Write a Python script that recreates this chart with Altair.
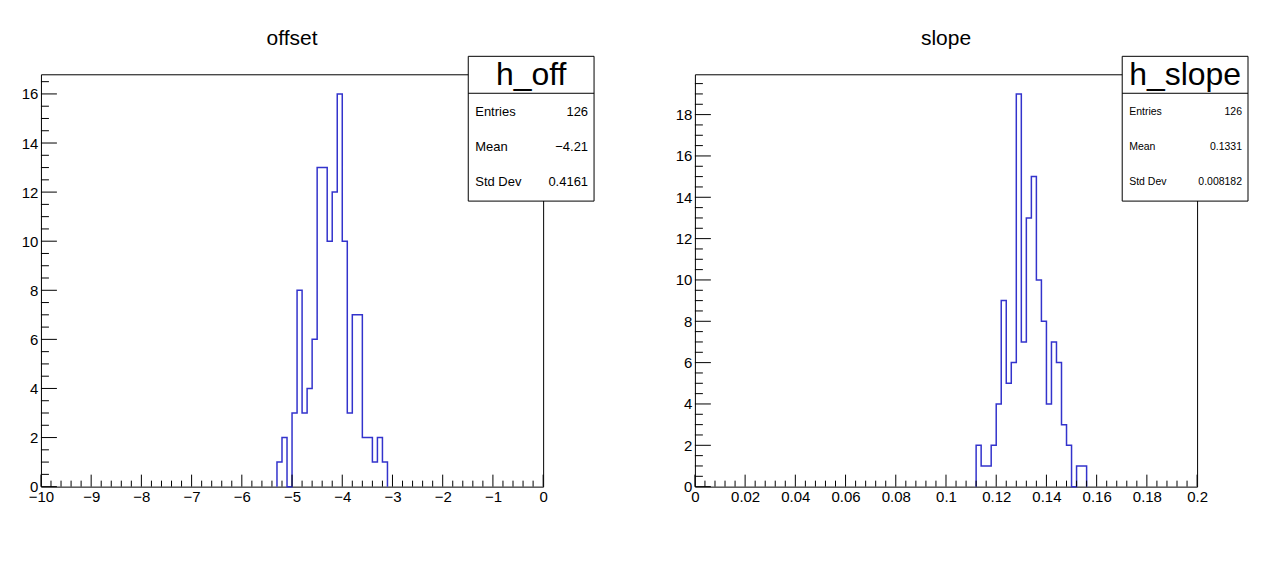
import altair as alt
import pandas as pd

# ---------------- data ----------------
# h_off : 100 bins on [-10, 0]; non-empty range starts at -5.3
off_first_edge = -5.3
off_bin_width = 0.1
off_counts = [1, 2, 0, 3, 8, 3, 4, 6, 13, 13, 10, 12, 16, 10, 3, 7, 7, 2, 2, 1, 2, 1]
off_xlim = [-10, 0]
off_ymax = 16.8
off_xmajor = [-10, -9, -8, -7, -6, -5, -4, -3, -2, -1, 0]
off_ymajor = [0, 2, 4, 6, 8, 10, 12, 14, 16]
off_stats = ["126", "\u22124.21", "0.4161"]

# h_slope : 100 bins on [0, 0.2]; non-empty range starts at 0.112
slope_first_edge = 0.112
slope_bin_width = 0.002
slope_counts = [2, 1, 1, 2, 4, 9, 5, 6, 19, 7, 13, 15, 10, 8, 4, 7, 6, 3, 2, 0, 1, 1]
slope_xlim = [0, 0.2]
slope_ymax = 19.95
slope_xmajor = [0, 0.02, 0.04, 0.06, 0.08, 0.1, 0.12, 0.14, 0.16, 0.18, 0.2]
slope_ymajor = [0, 2, 4, 6, 8, 10, 12, 14, 16, 18]
slope_stats = ["126", "0.1331", "0.008182"]

stat_labels = ["Entries", "Mean", "Std Dev"]

W, H = 503, 413
FONT = "Liberation Sans"
LINE_COLOR = "#3333cc"


def minor_ticks(lo, step, n, every):
    return [round(lo + step * k, 6) for k in range(n + 1) if k % every]


def step_table(first_edge, bw, counts):
    xs = [first_edge]
    ys = [0]
    for i, c in enumerate(counts):
        xs.append(round(first_edge + i * bw, 6))
        ys.append(c)
    xs.append(round(first_edge + len(counts) * bw, 6))
    ys.append(0)
    return pd.DataFrame({"x": xs, "y": ys, "i": list(range(len(xs)))})


def panel(title, hname, first_edge, bw, counts, xlim, ymax, xmajor, xminor,
          ymajor, yminor, xfmt, stats, stat_size):
    xs = alt.Scale(domain=xlim, nice=False, zero=False)
    ys = alt.Scale(domain=[0, ymax], nice=False, zero=False)
    xax = alt.Axis(values=xmajor, format=xfmt, title=None, ticks=False, domain=False,
                   grid=False, labelFlush=False, labelOverlap=False, labelFont=FONT,
                   labelFontSize=15, labelColor="black", labelPadding=3)
    yax = alt.Axis(values=ymajor, format="d", title=None, ticks=False, domain=False,
                   grid=False, labelFlush=False, labelOverlap=False, labelFont=FONT,
                   labelFontSize=15, labelColor="black", labelPadding=3)
    one = pd.DataFrame({"a": [0]})

    hist = alt.Chart(step_table(first_edge, bw, counts)).mark_line(
        interpolate="step-after", color=LINE_COLOR, strokeWidth=1.5
    ).encode(
        x=alt.X("x:Q", scale=xs, axis=xax),
        y=alt.Y("y:Q", scale=ys, axis=yax),
        order=alt.Order("i:Q"),
    )

    def xt(vals, ln):
        return alt.Chart(pd.DataFrame({"x": vals})).mark_rule(
            color="black", strokeWidth=1).encode(
            x=alt.X("x:Q", scale=xs, axis=xax),
            y=alt.value(H), y2=alt.value(H - ln))

    def yt(vals, ln):
        return alt.Chart(pd.DataFrame({"y": vals})).mark_rule(
            color="black", strokeWidth=1).encode(
            y=alt.Y("y:Q", scale=ys, axis=yax),
            x=alt.value(0), x2=alt.value(ln))

    layers = [hist, xt(xmajor, 12), xt(xminor, 6), yt(ymajor, 16), yt(yminor, 8)]

    # title
    layers.append(alt.Chart(one).mark_text(
        font=FONT, fontSize=21, color="black", baseline="middle", align="center"
    ).encode(x=alt.value(W / 2), y=alt.value(-35), text=alt.value(title)))

    # stats box
    bx1, bx2, by1, by2, bdiv = 428, 554, -18, 127, 19
    layers.append(alt.Chart(one).mark_rect(
        fill="white", stroke="black", strokeWidth=1
    ).encode(x=alt.value(bx1), x2=alt.value(bx2), y=alt.value(by1), y2=alt.value(by2)))
    layers.append(alt.Chart(one).mark_rule(color="black", strokeWidth=1).encode(
        x=alt.value(bx1), x2=alt.value(bx2), y=alt.value(bdiv)))
    layers.append(alt.Chart(one).mark_text(
        font=FONT, fontSize=32, color="black", baseline="middle", align="center"
    ).encode(x=alt.value((bx1 + bx2) / 2), y=alt.value(1), text=alt.value(hname)))
    row_y = [37.7, 73.2, 107.5]
    for lab, val, ry in zip(stat_labels, stats, row_y):
        layers.append(alt.Chart(one).mark_text(
            font=FONT, fontSize=stat_size, color="black", baseline="middle", align="left"
        ).encode(x=alt.value(435), y=alt.value(ry), text=alt.value(lab)))
        layers.append(alt.Chart(one).mark_text(
            font=FONT, fontSize=stat_size, color="black", baseline="middle", align="right"
        ).encode(x=alt.value(548), y=alt.value(ry), text=alt.value(val)))

    return alt.layer(*layers).properties(width=W, height=H)


left = panel("offset", "h_off", off_first_edge, off_bin_width, off_counts, off_xlim,
             off_ymax, off_xmajor, minor_ticks(-10, 0.2, 50, 5), off_ymajor,
             minor_ticks(0, 0.5, 33, 4), "d", off_stats, 13)
right = panel("slope", "h_slope", slope_first_edge, slope_bin_width, slope_counts,
              slope_xlim, slope_ymax, slope_xmajor, minor_ticks(0, 0.004, 50, 5),
              slope_ymajor, minor_ticks(0, 0.5, 39, 4), ".2~f", slope_stats, 10.5)

chart = alt.hconcat(left, right, spacing=152).properties(
    bounds="flush",
    padding={"left": 12, "top": 19, "right": 5, "bottom": 5},
    background="white",
).configure_view(stroke="black", strokeWidth=1)

chart.save("out.html", embed_options={"renderer": "svg", "actions": False})
